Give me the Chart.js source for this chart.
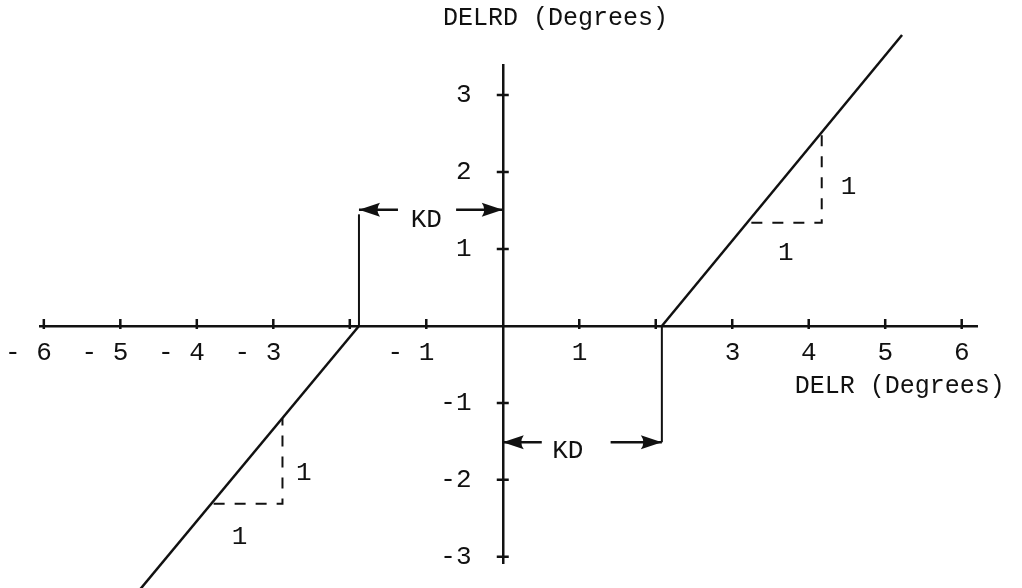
<!DOCTYPE html>
<html>
<head>
<meta charset="utf-8">
<script src="https://cdn.jsdelivr.net/npm/chart.js@4.4.1/dist/chart.umd.min.js"></script>
<style>
  html, body { margin: 0; padding: 0; background: #fff; }
  #wrap { width: 1022px; height: 588px; }
</style>
</head>
<body>
<div id="wrap"><canvas id="chart"></canvas></div>
<script>
// tick values on the two axes
const xTicks = [-6, -5, -4, -3, -2, -1, 0, 1, 2, 3, 4, 5, 6];
const yTicks = [-3, -2, -1, 0, 1, 2, 3];
const xNoLabel = [-2, 0, 2];
const yNoLabel = [0];

// dead zone characteristic (DELRD vs DELR)
const rightLine = [{x: 2.08, y: 0}, {x: 5.22, y: 3.78}];
const leftLine = [{x: -1.88, y: 0}, {x: -4.89, y: -3.6}];

// slope triangles (dashed)
const rightTri = [{x: 3.25, y: 1.34}, {x: 4.17, y: 1.34}, {x: 4.17, y: 2.48}];
const leftTri = [{x: -3.78, y: -2.31}, {x: -2.88, y: -2.31}, {x: -2.88, y: -1.2}];

// KD dimension brackets, last point of each arrow = tip
const kdTopLeg = [{x: -1.88, y: 0}, {x: -1.88, y: 1.45}];
const kdBotLeg = [{x: 2.08, y: 0}, {x: 2.08, y: -1.51}];
const kdTopArrowL = [{x: -1.37, y: 1.51}, {x: -1.88, y: 1.51}];
const kdTopArrowR = [{x: -0.61, y: 1.51}, {x: 0, y: 1.51}];
const kdBotArrowL = [{x: 0.51, y: -1.51}, {x: 0, y: -1.51}];
const kdBotArrowR = [{x: 1.41, y: -1.51}, {x: 2.08, y: -1.51}];

// text placed in data units
const notes = [
    {text: 'DELRD (Degrees)', x: 0.69, y: 4.0, size: 25},
    {text: 'DELR (Degrees)', x: 5.19, y: -0.79, size: 25},
    {text: 'KD', x: -1.0, y: 1.38, size: 26},
    {text: 'KD', x: 0.85, y: -1.62, size: 26},
    {text: '1', x: 4.52, y: 1.81, size: 26},
    {text: '1', x: 3.70, y: 0.94, size: 26},
    {text: '1', x: -2.60, y: -1.91, size: 26},
    {text: '1', x: -3.44, y: -2.74, size: 26}
];

const INK = '#111';
const FONT = "'Liberation Mono', 'DejaVu Sans Mono', monospace";

function line(data, extra) {
    return Object.assign({
        data: data, showLine: true, pointRadius: 0, borderColor: INK,
        borderWidth: 2.5, clip: false, fill: false, tension: 0
    }, extra || {});
}

// axes sit inside the plot, so they must not take any room from it
function noRoom(s) {
    if (s.isHorizontal()) s.height = 0; else s.width = 0;
    s.paddingLeft = s.paddingRight = s.paddingTop = s.paddingBottom = 0;
}

const arrows = [kdTopArrowL, kdTopArrowR, kdBotArrowL, kdBotArrowR];

const drawExtras = {
    id: 'drawExtras',
    afterDatasetsDraw(chart) {
        const ctx = chart.ctx;
        const sx = chart.scales.x, sy = chart.scales.y;
        const ox = sx.getPixelForValue(0), oy = sy.getPixelForValue(0);
        ctx.save();
        ctx.fillStyle = INK;
        ctx.strokeStyle = INK;
        ctx.lineWidth = 2.5;
        // tick marks crossing the axes
        ctx.beginPath();
        sx.ticks.forEach(t => {
            if (t.value === 0) return;
            const px = sx.getPixelForValue(t.value);
            ctx.moveTo(px, oy - 7); ctx.lineTo(px, oy + 3);
        });
        sy.ticks.forEach(t => {
            if (t.value === 0) return;
            const py = sy.getPixelForValue(t.value);
            ctx.moveTo(ox - 6, py); ctx.lineTo(ox + 6, py);
        });
        ctx.stroke();
        // arrowheads
        arrows.forEach(a => {
            const p0 = a[a.length - 2], p1 = a[a.length - 1];
            const x0 = sx.getPixelForValue(p0.x), y0 = sy.getPixelForValue(p0.y);
            const x1 = sx.getPixelForValue(p1.x), y1 = sy.getPixelForValue(p1.y);
            const ang = Math.atan2(y1 - y0, x1 - x0);
            const len = 21, half = 7;
            ctx.save();
            ctx.translate(x1, y1);
            ctx.rotate(ang);
            ctx.beginPath();
            ctx.moveTo(0, 0);
            ctx.lineTo(-len, -half);
            ctx.quadraticCurveTo(-len + 5, 0, -len, half);
            ctx.closePath();
            ctx.fill();
            ctx.restore();
        });
        // text
        ctx.textAlign = 'center';
        ctx.textBaseline = 'middle';
        notes.forEach(n => {
            ctx.font = n.size + 'px ' + FONT;
            ctx.fillText(n.text, sx.getPixelForValue(n.x), sy.getPixelForValue(n.y));
        });
        ctx.restore();
    }
};

new Chart(document.getElementById('chart'), {
    type: 'scatter',
    data: {
        datasets: [
            line(rightLine),
            line(leftLine),
            line(rightTri, {borderDash: [11, 10], borderWidth: 2}),
            line(leftTri, {borderDash: [11, 10], borderWidth: 2}),
            line(kdTopLeg, {borderWidth: 2}),
            line(kdBotLeg, {borderWidth: 2}),
            line(kdTopArrowL), line(kdTopArrowR),
            line(kdBotArrowL), line(kdBotArrowR)
        ]
    },
    options: {
        responsive: true,
        maintainAspectRatio: false,
        animation: false,
        layout: {padding: {left: 40, top: 65, right: 45, bottom: 25}},
        plugins: {legend: {display: false}, tooltip: {enabled: false}},
        scales: {
            x: {
                type: 'linear', min: -6.05, max: 6.2,
                position: {y: 0},
                afterBuildTicks: s => { s.ticks = xTicks.map(v => ({value: v})); },
                afterFit: noRoom,
                border: {color: INK, width: 2.5},
                grid: {drawOnChartArea: false, drawTicks: false},
                ticks: {
                    autoSkip: false, maxRotation: 0, align: 'end', labelOffset: 8, padding: 12,
                    color: INK, font: {family: FONT, size: 26},
                    callback: v => xNoLabel.includes(v) ? '' : (v < 0 ? '- ' + (-v) : String(v))
                }
            },
            y: {
                type: 'linear', min: -3.08, max: 3.39,
                position: {x: 0},
                afterBuildTicks: s => { s.ticks = yTicks.map(v => ({value: v})); },
                afterFit: noRoom,
                border: {color: INK, width: 2.5},
                grid: {drawOnChartArea: false, drawTicks: false},
                ticks: {
                    autoSkip: false,
                    color: INK, font: {family: FONT, size: 26},
                    // labels sit right-aligned on the axis line, so pad with spaces
                    callback: v => yNoLabel.includes(v) ? '' : String(v) + '  '
                }
            }
        }
    },
    plugins: [drawExtras]
});
</script>
</body>
</html>
